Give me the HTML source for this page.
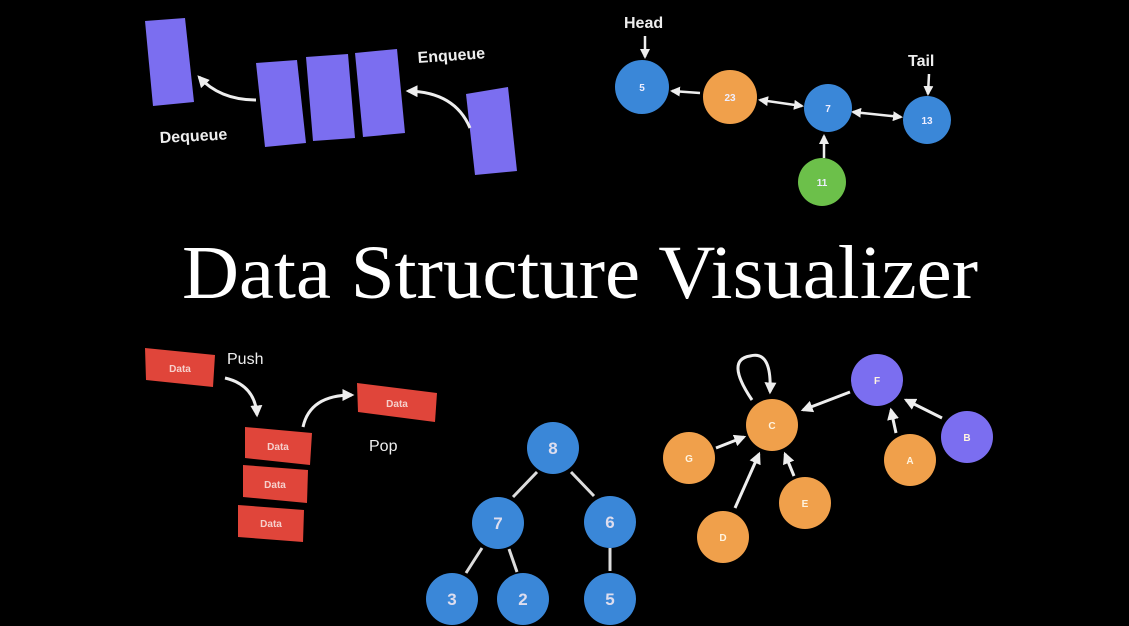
<!DOCTYPE html>
<html><head><meta charset="utf-8"><style>html,body{margin:0;padding:0;background:#000;width:1129px;height:626px;overflow:hidden}</style></head>
<body>
<svg width="1129" height="626" viewBox="0 0 1129 626" xmlns="http://www.w3.org/2000/svg">
<defs>
<marker id="ah" viewBox="0 0 10 10" refX="8" refY="5" markerWidth="4" markerHeight="4" orient="auto-start-reverse"><path d="M0,0 L10,5 L0,10 z" fill="#eee"/></marker>
</defs>
<rect width="1129" height="626" fill="#000"/>
<!-- Queue -->
<g fill="#7b6ef0">
<polygon points="145,21 185,18 194,102 153,106"/>
<polygon points="256,63 297,60 306,143 265,147"/>
<polygon points="306,57 348,54 355,138 313,141"/>
<polygon points="355,53 397,49 405,133 363,137"/>
<polygon points="466,94 508,87 517,171 475,175"/>
</g>
<g stroke="#eee" stroke-width="3" fill="none">
<path d="M256,100 Q220,100 199,77" marker-end="url(#ah)"/>
<path d="M470,128 Q455,92 408,91" marker-end="url(#ah)"/>
</g>
<g font-family="Liberation Sans, sans-serif" font-weight="bold" fill="#eee" font-size="16">
<text x="418" y="63" transform="rotate(-4 418 63)">Enqueue</text>
<text x="160" y="143" transform="rotate(-3 160 143)">Dequeue</text>
</g>
<!-- Linked list -->
<g stroke="#eee" stroke-width="2.5" fill="none">
<line x1="672" y1="91" x2="700" y2="93" marker-start="url(#ah)"/>
<line x1="760" y1="100" x2="802" y2="106" marker-start="url(#ah)" marker-end="url(#ah)"/>
<line x1="853" y1="112" x2="901" y2="117" marker-start="url(#ah)" marker-end="url(#ah)"/>
<line x1="824" y1="158" x2="824" y2="136" marker-end="url(#ah)"/>
<line x1="645" y1="36" x2="645" y2="57" marker-end="url(#ah)"/>
<line x1="929" y1="74" x2="928" y2="94" marker-end="url(#ah)"/>
</g>
<circle cx="642" cy="87" r="27" fill="#3a87d8"/>
<circle cx="730" cy="97" r="27" fill="#f0a04b"/>
<circle cx="828" cy="108" r="24" fill="#3a87d8"/>
<circle cx="927" cy="120" r="24" fill="#3a87d8"/>
<circle cx="822" cy="182" r="24" fill="#6cc04a"/>
<g font-family="Liberation Sans, sans-serif" font-size="10" fill="#eef" text-anchor="middle" font-weight="bold">
<text x="642" y="91">5</text><text x="730" y="101">23</text><text x="828" y="112">7</text><text x="927" y="124">13</text><text x="822" y="186">11</text>
</g>
<g font-family="Liberation Sans, sans-serif" font-weight="bold" fill="#eee" font-size="16">
<text x="624" y="28">Head</text><text x="908" y="66">Tail</text>
</g>
<!-- Title -->
<text x="182" y="298" font-family="Liberation Serif, serif" font-size="76" fill="#fff" textLength="796" lengthAdjust="spacingAndGlyphs">Data Structure Visualizer</text>
<!-- Stack -->
<g fill="#e0453a">
<polygon points="145,348 215,355 213,387 146,380"/>
<polygon points="357,383 437,393 435,422 358,412"/>
<polygon points="245,427 312,433 310,465 245,458"/>
<polygon points="243,465 308,470 307,503 243,497"/>
<polygon points="238,505 304,510 303,542 238,537"/>
</g>
<g font-family="Liberation Sans, sans-serif" font-size="10" fill="#f6d0cc" text-anchor="middle" font-weight="bold">
<text x="180" y="372">Data</text><text x="397" y="407">Data</text><text x="278" y="450">Data</text><text x="275" y="488">Data</text><text x="271" y="527">Data</text>
</g>
<g stroke="#eee" stroke-width="3" fill="none">
<path d="M225,378 Q255,385 257,415" marker-end="url(#ah)"/>
<path d="M303,427 Q310,395 352,395" marker-end="url(#ah)"/>
</g>
<g font-family="Liberation Sans, sans-serif" fill="#eee" font-size="16">
<text x="227" y="364">Push</text><text x="369" y="451">Pop</text>
</g>
<!-- Tree -->
<g stroke="#ddd" stroke-width="3">
<line x1="537" y1="472" x2="513" y2="497"/><line x1="571" y1="472" x2="594" y2="496"/>
<line x1="482" y1="548" x2="466" y2="573"/><line x1="509" y1="549" x2="517" y2="572"/>
<line x1="610" y1="548" x2="610" y2="571"/>
</g>
<g fill="#3a87d8">
<circle cx="553" cy="448" r="26"/><circle cx="498" cy="523" r="26"/><circle cx="610" cy="522" r="26"/>
<circle cx="452" cy="599" r="26"/><circle cx="523" cy="599" r="26"/><circle cx="610" cy="599" r="26"/>
</g>
<g font-family="Liberation Sans, sans-serif" font-size="17" fill="#dde" text-anchor="middle" font-weight="bold">
<text x="553" y="454">8</text><text x="498" y="529">7</text><text x="610" y="528">6</text><text x="452" y="605">3</text><text x="523" y="605">2</text><text x="610" y="605">5</text>
</g>
<!-- Graph -->
<g stroke="#eee" stroke-width="3" fill="none">
<path d="M752,400 Q725,360 750,356 Q772,350 770,392" marker-end="url(#ah)"/>
<line x1="850" y1="392" x2="803" y2="410" marker-end="url(#ah)"/>
<line x1="716" y1="448" x2="744" y2="437" marker-end="url(#ah)"/>
<line x1="735" y1="508" x2="759" y2="454" marker-end="url(#ah)"/>
<line x1="794" y1="476" x2="785" y2="454" marker-end="url(#ah)"/>
<line x1="896" y1="433" x2="891" y2="410" marker-end="url(#ah)"/>
<line x1="942" y1="418" x2="906" y2="400" marker-end="url(#ah)"/>
</g>
<g fill="#f0a04b">
<circle cx="772" cy="425" r="26"/><circle cx="910" cy="460" r="26"/><circle cx="689" cy="458" r="26"/>
<circle cx="805" cy="503" r="26"/><circle cx="723" cy="537" r="26"/>
</g>
<g fill="#7b6ef0"><circle cx="877" cy="380" r="26"/><circle cx="967" cy="437" r="26"/></g>
<g font-family="Liberation Sans, sans-serif" font-size="10" fill="#fff4e0" text-anchor="middle" font-weight="bold">
<text x="772" y="429">C</text><text x="910" y="464">A</text><text x="689" y="462">G</text><text x="805" y="507">E</text><text x="723" y="541">D</text><text x="877" y="384">F</text><text x="967" y="441">B</text>
</g>
</svg>
</body></html>
